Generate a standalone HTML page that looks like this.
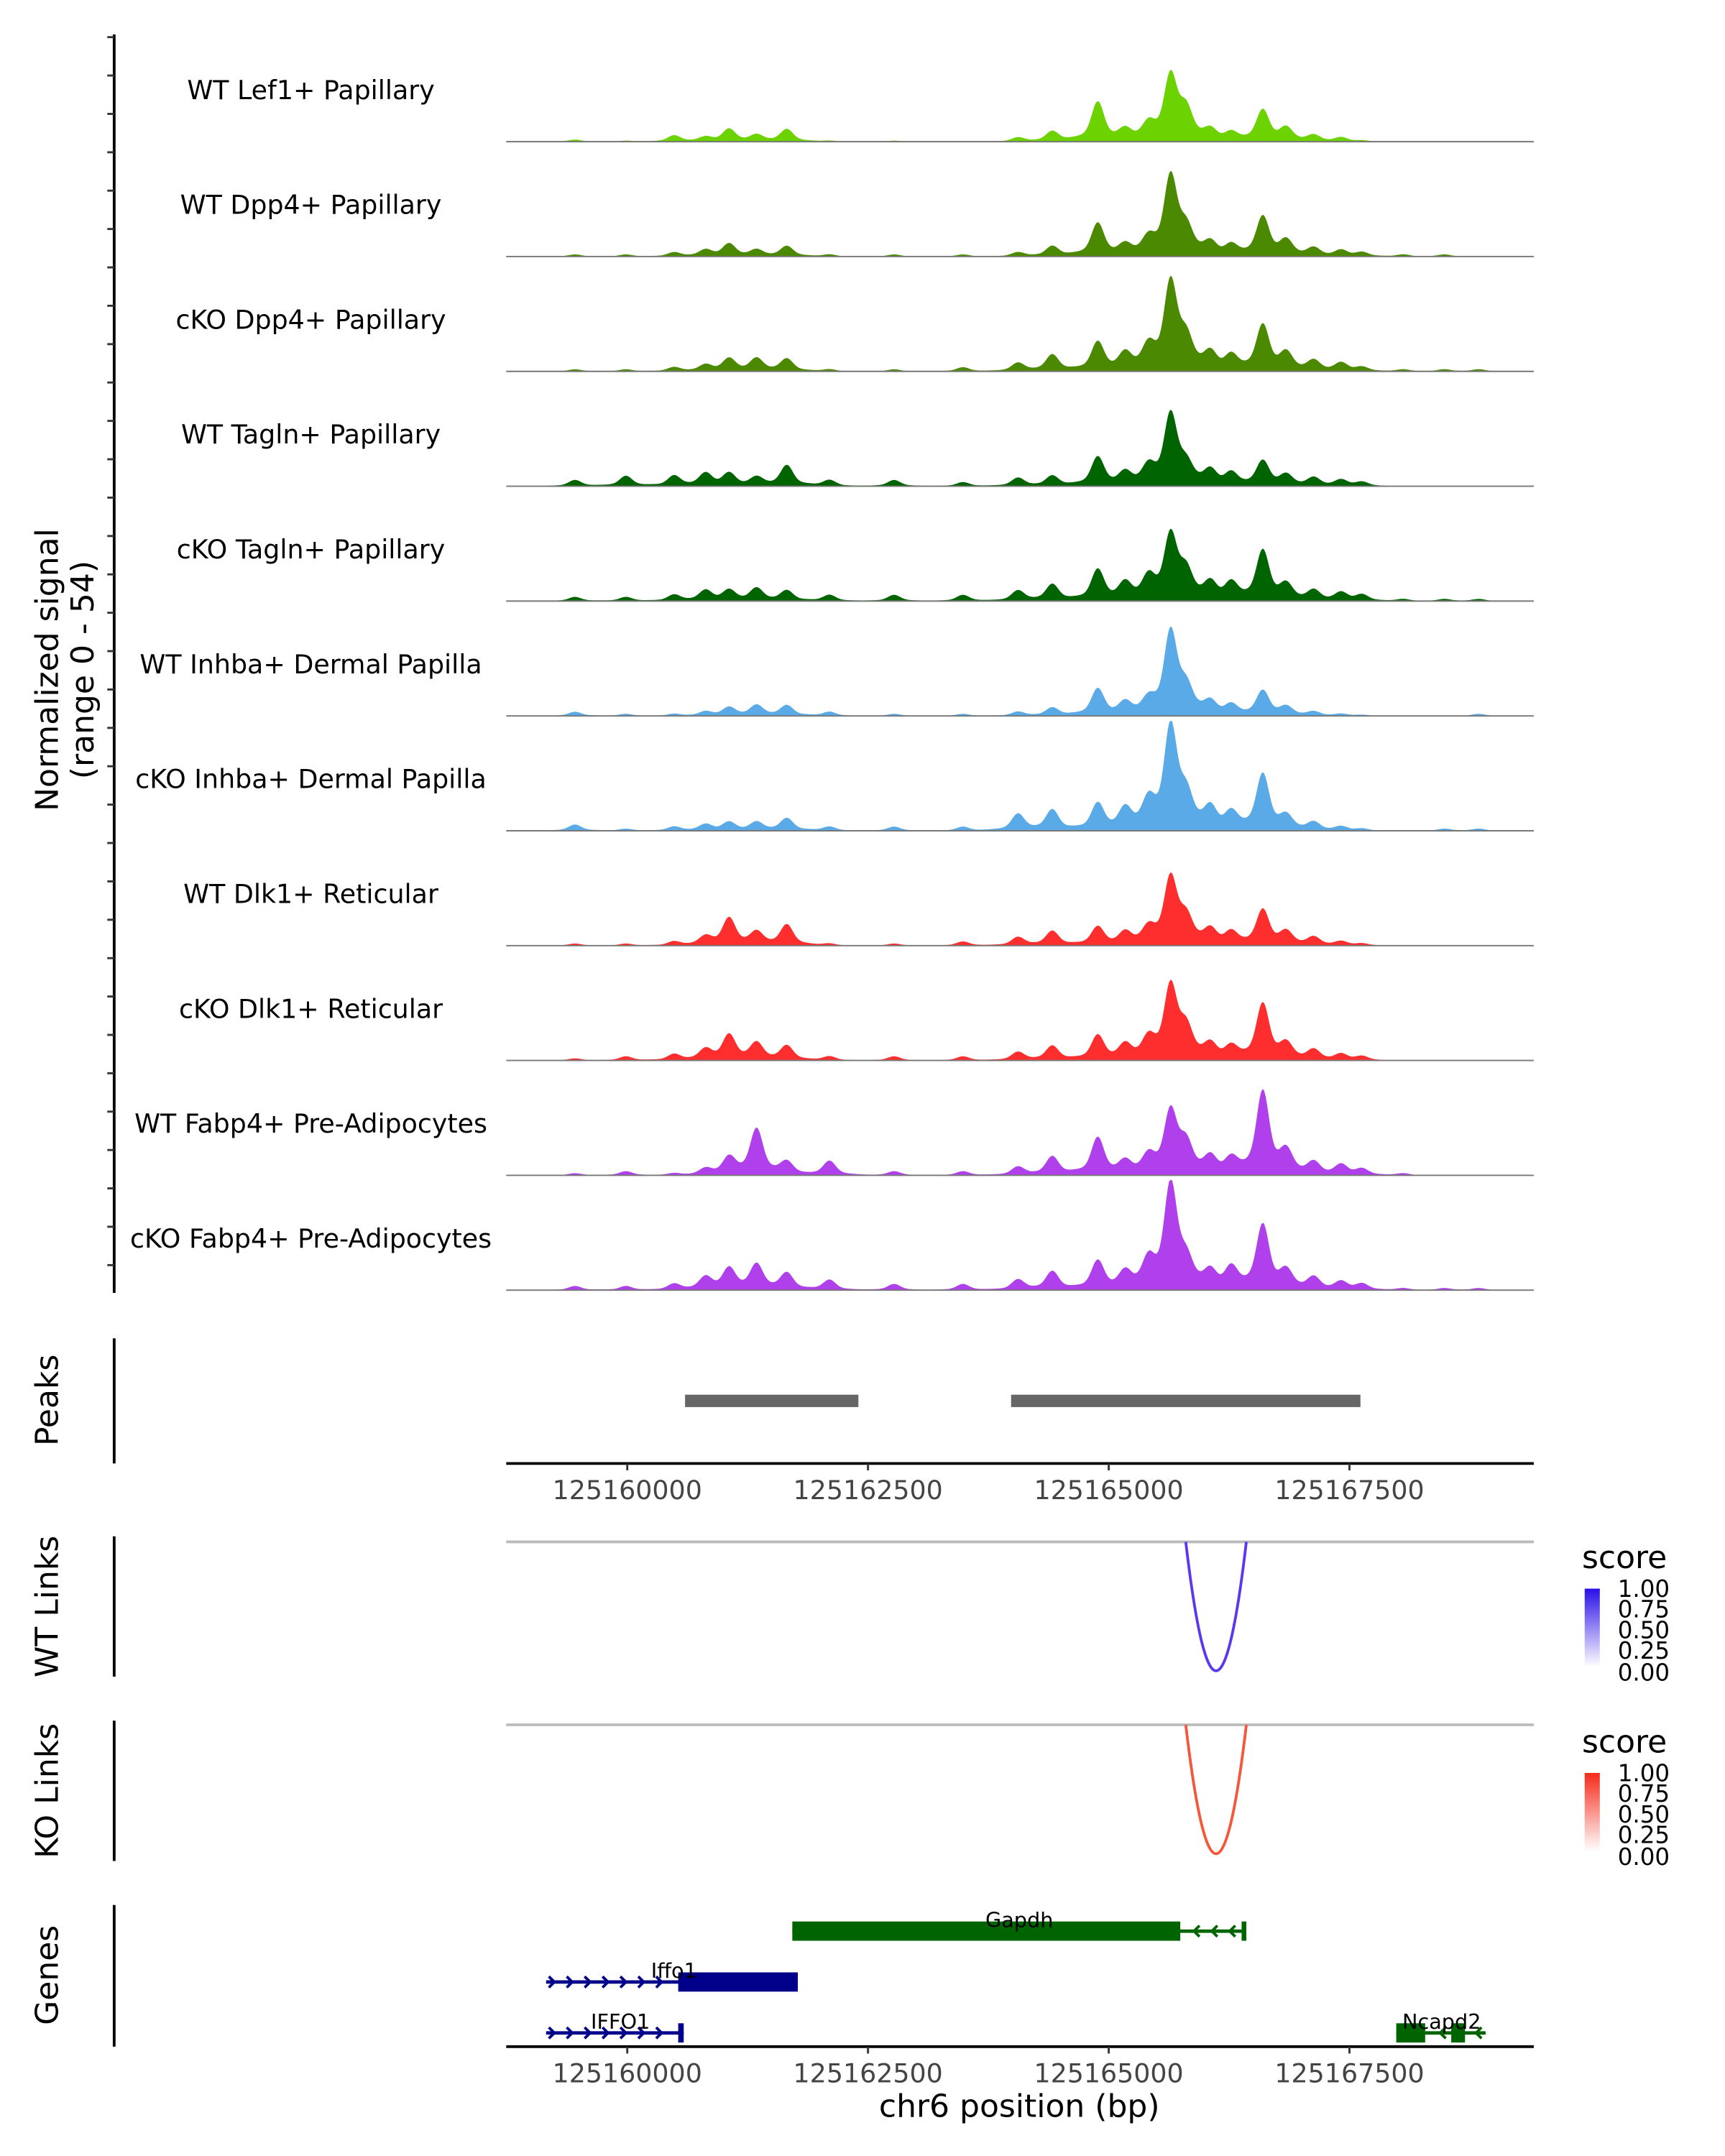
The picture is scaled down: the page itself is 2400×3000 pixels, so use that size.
<!DOCTYPE html>
<html><head><meta charset="utf-8"><style>
html,body{margin:0;padding:0;background:#fff}
svg{display:block;font-family:"DejaVu Sans","Liberation Sans",sans-serif}
</style></head><body>
<svg id="chart" width="2400" height="3000" viewBox="0 0 1254 1567.5" xmlns="http://www.w3.org/2000/svg">
<rect width="1254" height="1567.5" fill="#fff"/>
<g id="tracks"></g>
<line x1="83" y1="25" x2="83" y2="940" stroke="#000" stroke-width="2"/>
<g id="yticks"></g>
<text transform="translate(42,487) rotate(-90)" text-anchor="middle" font-size="23">Normalized signal</text>
<text transform="translate(68,487) rotate(-90)" text-anchor="middle" font-size="23">(range 0 - 54)</text>

<line x1="83" y1="973" x2="83" y2="1064" stroke="#000" stroke-width="2"/>
<text transform="translate(42,1018) rotate(-90)" text-anchor="middle" font-size="23">Peaks</text>
<g id="peaks"></g>
<line x1="368" y1="1064" x2="1115" y2="1064" stroke="#000" stroke-width="2"/>
<g id="xticks1"></g>

<line x1="83" y1="1117" x2="83" y2="1219" stroke="#000" stroke-width="2"/>
<text transform="translate(42,1168) rotate(-90)" text-anchor="middle" font-size="23">WT Links</text>
<line x1="368" y1="1121" x2="1115" y2="1121" stroke="#bbb" stroke-width="2"/>
<path id="wtarc" fill="none" stroke="#5b38f0" stroke-width="2"/>

<line x1="83" y1="1251" x2="83" y2="1353" stroke="#000" stroke-width="2"/>
<text transform="translate(42,1302) rotate(-90)" text-anchor="middle" font-size="23">KO Links</text>
<line x1="368" y1="1254" x2="1115" y2="1254" stroke="#bbb" stroke-width="2"/>
<path id="koarc" fill="none" stroke="#f5573a" stroke-width="2"/>

<defs>
<linearGradient id="gb" x1="0" y1="1" x2="0" y2="0"><stop offset="0" stop-color="#fff"/><stop offset="1" stop-color="#2a10e8"/></linearGradient>
<linearGradient id="gr" x1="0" y1="1" x2="0" y2="0"><stop offset="0" stop-color="#fff"/><stop offset="1" stop-color="#f52a1a"/></linearGradient>
</defs>
<g>
<text x="1150" y="1140" font-size="23">score</text>
<rect x="1152" y="1155" width="11" height="57" fill="url(#gb)"/>
<g font-size="17"><text x="1176" y="1161">1.00</text><text x="1176" y="1176">0.75</text><text x="1176" y="1191">0.50</text><text x="1176" y="1206">0.25</text><text x="1176" y="1222">0.00</text></g>
</g>
<g>
<text x="1150" y="1274" font-size="23">score</text>
<rect x="1152" y="1289" width="11" height="57" fill="url(#gr)"/>
<g font-size="17"><text x="1176" y="1295">1.00</text><text x="1176" y="1310">0.75</text><text x="1176" y="1325">0.50</text><text x="1176" y="1340">0.25</text><text x="1176" y="1356">0.00</text></g>
</g>

<line x1="83" y1="1385" x2="83" y2="1488" stroke="#000" stroke-width="2"/>
<text transform="translate(42,1436) rotate(-90)" text-anchor="middle" font-size="23">Genes</text>
<g id="genes"></g>
<line x1="368" y1="1488" x2="1115" y2="1488" stroke="#000" stroke-width="2"/>
<g id="xticks2"></g>
<text x="741" y="1539" text-anchor="middle" font-size="23">chr6 position (bp)</text>
</svg>
<script>
const trackNames=["WT Lef1+ Papillary","WT Dpp4+ Papillary","cKO Dpp4+ Papillary","WT Tagln+ Papillary","cKO Tagln+ Papillary","WT Inhba+ Dermal Papilla","cKO Inhba+ Dermal Papilla","WT Dlk1+ Reticular","cKO Dlk1+ Reticular","WT Fabp4+ Pre-Adipocytes","cKO Fabp4+ Pre-Adipocytes"];
const trackColors=["#6cd200","#4b8a00","#4b8a00","#006400","#006400","#5aaae8","#5aaae8","#ff2e2e","#ff2e2e","#b040ec","#b040ec"];
const peakCenters=[125159457,125159986,125160486,125160814,125161057,125161343,125161657,125162100,125162771,125163486,125164057,125164414,125164886,125165171,125165414,125165643,125165800,125166057,125166271,125166600,125166843,125167129,125167414,125167629,125168057,125168486,125168843];
const sLef1WT=[1,0.5,3,2,6,3,6,0.5,0.5,0,2,5,19,5,7,31,14,5,4,15,6,3,2,0.5,0,0,0];
const sDpp4WT=[1,1,2,3,6,3,5,1,1,1,2,5,16,5,7,38,12,6,5,19,7,4,3,2,1,1,0];
const sDpp4KO=[1,1,2,3,6,6,6,1,1,2,4,8,14,8,10,42,14,8,7,22,8,5,4,2,1,1,1];
const sTaglnWT=[3,5,5,6,6,4,10,3,3,2,4,5,14,6,8,34,9,7,6,12,5,4,3,2,0,0,0];
const sTaglnKO=[2,2,3,5,5,6,5,3,3,3,5,8,15,8,10,31,13,8,8,24,7,5,4,3,1,1,1];
const sInhbaWT=[2,1,1,2,4,5,5,2,1,1,2,4,13,6,6,40,12,6,5,12,4,2,1,0.5,0,0,1];
const sInhbaKO=[3,1,2,3,4,4,6,2,2,2,8,10,13,10,12,49,15,10,8,27,6,4,2,1,0,1,1];
const sDlk1WT=[1,1,2,4,13,6,10,1,1,2,4,7,9,6,7,32,12,7,6,17,6,4,2,1,0,0,0];
const sDlk1KO=[1,2,3,5,12,8,7,2,2,2,4,7,12,7,9,35,14,7,6,27,7,5,3,2,0,0,0];
const sFabp4WT=[1,2,1,3,8,22,6,7,2,2,4,9,18,6,8,30,14,8,7,40,10,6,5,3,1,0,0];
const sFabp4KO=[2,2,3,6,10,12,8,5,3,3,5,9,14,8,12,50,12,8,10,31,8,6,4,3,1,1,1];
const xTicks=[125160000,125162500,125165000,125167500];
const peakStarts=[125160600,125163986];
const peakEnds=[125162400,125167614];
const linkStart=[125165800], linkEnd=[125166429], linkScoreWT=[0.75], linkScoreKO=[0.75];

const NS="http://www.w3.org/2000/svg";
const X=bp=>456+(bp-125160000)*175/2500;
const yMax=54, trackH=80;
function mk(tag,attrs,parent){const e=document.createElementNS(NS,tag);for(const k in attrs)e.setAttribute(k,attrs[k]);parent.appendChild(e);return e;}
const series=[sLef1WT,sDpp4WT,sDpp4KO,sTaglnWT,sTaglnKO,sInhbaWT,sInhbaKO,sDlk1WT,sDlk1KO,sFabp4WT,sFabp4KO];
const tg=document.getElementById('tracks');
series.forEach((vals,i)=>{
  const base=103+i*83.5;
  const g=mk('g',{},tg);
  
  
  let d='M368,'+base;
  for(let x=368;x<=1115;x+=1){
    const bp=125160000+(x-456)*2500/175;
    let v=0;
    peakCenters.forEach((c,j)=>{const dd=(bp-c)*(bp-c);v+=0.8*vals[j]*Math.exp(-dd/(2*60*60))+0.22*vals[j]*Math.exp(-dd/(2*200*200));});
    d+=' L'+x+','+(base-Math.min(v,yMax)/yMax*trackH).toFixed(2);
  }
  d+=' L1115,'+base+' Z';
  const p=mk('path',{d:d,fill:trackColors[i]},g);
  
  
  const l=mk('line',{x1:368,y1:base,x2:1115,y2:base,stroke:'#777','stroke-width':1},g);
  
  
  const t=mk('text',{x:226,y:base-31,'text-anchor':'middle','font-size':19},g);
  t.textContent=trackNames[i];
  
  
});
const yt=document.getElementById('yticks');
for(let y=27;y<=940;y+=27.9){const l=mk('line',{x1:78,y1:y,x2:83,y2:y,stroke:'#333','stroke-width':1.5},yt);}
const pk=document.getElementById('peaks');
peakStarts.forEach((s,i)=>{const r=mk('rect',{x:X(s),y:1014,width:X(peakEnds[i])-X(s),height:9,fill:'#666'},pk);});
function ticks(id,y){const g=document.getElementById(id);xTicks.forEach(b=>{const l=mk('line',{x1:X(b),y1:y,x2:X(b),y2:y+5,stroke:'#333','stroke-width':1.5},g);const t=mk('text',{x:X(b),y:y+26,'text-anchor':'middle','font-size':19,fill:'#444'},g);t.textContent=b;});}
ticks('xticks1',1064);ticks('xticks2',1488);
function arc(id,base,score){const a=X(linkStart[0]),b=X(linkEnd[0]),m=(a+b)/2,depth=score*125;document.getElementById(id).setAttribute('d','M'+a+','+base+' Q'+m+','+(base+depth*2)+' '+b+','+base);}
arc('wtarc',1121,linkScoreWT[0]);arc('koarc',1254,linkScoreKO[0]);
const gg=document.getElementById('genes');
function gene(name,color,y,lineS,lineE,boxes,dir,lbl){
  const g=mk('g',{},gg);
  
  
  mk('line',{x1:X(lineS),y1:y,x2:X(lineE),y2:y,stroke:color,'stroke-width':2.5},g);
  boxes.forEach(b=>mk('rect',{x:X(b[0]),y:y-7,width:Math.max(X(b[1])-X(b[0]),3),height:14,fill:color},g));
  for(let x=X(lineS)+6;x<X(lineE)-4;x+=13){
    const inBox=boxes.some(b=>x>X(b[0])-4&&x<X(b[1])+4); if(inBox)continue;
    const dx=dir>0?-4:4;
    mk('path',{d:'M'+(x+dx)+','+(y-4)+' L'+x+','+y+' L'+(x+dx)+','+(y+4),fill:'none',stroke:color,'stroke-width':2},g);
  }
  const t=mk('text',{x:lbl,y:y-3,'text-anchor':'middle','font-size':15},g);t.textContent=name;
}
gene('Gapdh','#006400',1404,125161714,125166429,[[125161714,125165743],[125166380,125166429]],-1,741);
gene('Iffo1','#00008b',1441,125159157,125161771,[[125160529,125161771]],1,490);
gene('IFFO1','#00008b',1478,125159157,125160586,[[125160529,125160586]],1,451);
gene('Ncapd2','#006400',1478,125167986,125168914,[[125167986,125168286],[125168557,125168700]],-1,1048);
</script>
</body></html>
